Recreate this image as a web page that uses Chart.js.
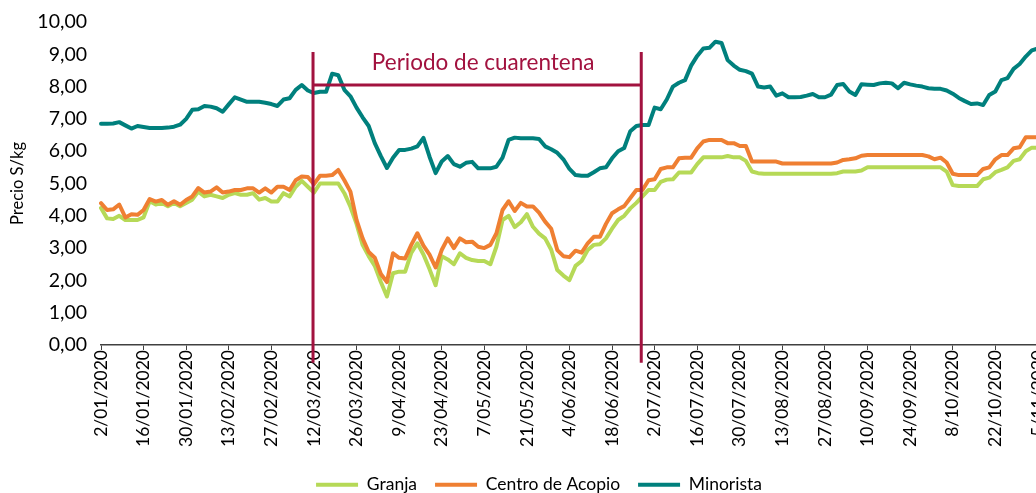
<!DOCTYPE html>
<html lang="es">
<head>
<meta charset="utf-8">
<title>Precio S/kg 2020</title>
<script src="https://cdn.jsdelivr.net/npm/chart.js@4/dist/chart.umd.min.js"></script>
<style>
html, body { margin: 0; padding: 0; background: #fff; overflow: hidden; }
#contenedor { width: 1054px; height: 493px; }
</style>
</head>
<body>
<div id="contenedor"><canvas id="grafico"></canvas></div>
<script>
// fechas cada 2 días desde 2/01/2020
const fechaInicio = new Date(2020, 0, 2);
const totalPuntos = 156;
const fechas = [];
for (let i = 0; i < totalPuntos; i++) {
    const d = new Date(fechaInicio);
    d.setDate(d.getDate() + i * 2);
    fechas.push(d.getDate() + '/' + String(d.getMonth() + 1).padStart(2, '0') + '/' + d.getFullYear());
}

// precios S/kg
const granja = [
    4.24,3.92,3.9,4.0,3.87,3.87,3.87,3.95,4.45,4.35,
    4.4,4.3,4.4,4.3,4.4,4.5,4.75,4.6,4.65,4.6,
    4.55,4.65,4.7,4.65,4.65,4.7,4.5,4.55,4.44,4.44,
    4.7,4.6,4.9,5.08,4.9,4.72,5.0,5.0,5.0,5.0,
    4.7,4.28,3.75,3.1,2.75,2.45,1.95,1.5,2.22,2.27,
    2.27,2.85,3.15,2.8,2.35,1.85,2.75,2.65,2.5,2.84,
    2.7,2.63,2.6,2.6,2.5,3.05,3.87,4.0,3.65,3.8,
    4.05,3.66,3.45,3.3,2.95,2.32,2.15,2.01,2.45,2.6,
    2.94,3.1,3.12,3.3,3.6,3.87,4.0,4.23,4.4,4.6,
    4.8,4.8,5.05,5.12,5.13,5.34,5.34,5.34,5.6,5.81,
    5.81,5.81,5.81,5.85,5.81,5.81,5.7,5.37,5.32,5.3,
    5.3,5.3,5.3,5.3,5.3,5.3,5.3,5.3,5.3,5.3,
    5.3,5.32,5.37,5.37,5.37,5.4,5.5,5.5,5.5,5.5,
    5.5,5.5,5.5,5.5,5.5,5.5,5.5,5.5,5.5,5.37,
    4.95,4.92,4.92,4.92,4.92,5.13,5.18,5.35,5.42,5.5,
    5.7,5.75,6.0,6.11,6.11,6.11
];
const centroAcopio = [
    4.39,4.18,4.2,4.35,3.95,4.05,4.03,4.18,4.52,4.44,
    4.49,4.34,4.45,4.34,4.49,4.6,4.86,4.72,4.75,4.88,
    4.72,4.75,4.8,4.8,4.85,4.85,4.72,4.85,4.72,4.9,
    4.9,4.8,5.1,5.22,5.2,4.98,5.24,5.24,5.26,5.42,
    5.1,4.75,3.87,3.3,2.88,2.7,2.2,1.95,2.84,2.7,
    2.68,3.1,3.46,3.08,2.8,2.4,2.94,3.3,3.0,3.3,
    3.18,3.2,3.04,3.0,3.1,3.46,4.18,4.45,4.15,4.4,
    4.29,4.29,4.1,3.82,3.6,2.94,2.75,2.72,2.92,2.86,
    3.15,3.35,3.35,3.75,4.08,4.2,4.3,4.55,4.8,4.8,
    5.1,5.13,5.45,5.5,5.5,5.78,5.8,5.8,6.09,6.3,
    6.35,6.35,6.35,6.25,6.25,6.16,6.16,5.68,5.68,5.68,
    5.68,5.68,5.62,5.62,5.62,5.62,5.62,5.62,5.62,5.62,
    5.62,5.65,5.73,5.75,5.78,5.86,5.88,5.88,5.88,5.88,
    5.88,5.88,5.88,5.88,5.88,5.88,5.84,5.75,5.8,5.65,
    5.3,5.26,5.26,5.26,5.26,5.45,5.5,5.75,5.88,5.88,
    6.09,6.12,6.43,6.43,6.43,6.43
];
const minorista = [
    6.85,6.85,6.86,6.9,6.8,6.7,6.78,6.75,6.72,6.72,
    6.72,6.73,6.76,6.82,7.0,7.28,7.3,7.4,7.38,7.33,
    7.22,7.45,7.67,7.6,7.53,7.53,7.53,7.5,7.46,7.4,
    7.6,7.64,7.9,8.05,7.88,7.8,7.84,7.84,8.4,8.35,
    7.9,7.7,7.35,7.05,6.78,6.25,5.85,5.48,5.8,6.04,
    6.04,6.08,6.15,6.41,5.83,5.32,5.68,5.85,5.6,5.52,
    5.64,5.67,5.47,5.47,5.47,5.52,5.8,6.35,6.42,6.4,
    6.4,6.4,6.38,6.15,6.06,5.95,5.75,5.45,5.26,5.24,
    5.24,5.35,5.47,5.5,5.78,6.0,6.1,6.62,6.78,6.81,
    6.81,7.35,7.3,7.6,8.0,8.12,8.2,8.65,8.95,9.18,
    9.2,9.39,9.35,8.82,8.65,8.52,8.48,8.4,8.0,7.97,
    8.0,7.72,7.79,7.67,7.67,7.68,7.72,7.77,7.67,7.67,
    7.75,8.05,8.08,7.85,7.74,8.07,8.06,8.05,8.1,8.12,
    8.1,7.95,8.12,8.07,8.03,8.0,7.95,7.93,7.93,7.88,
    7.78,7.65,7.55,7.46,7.48,7.43,7.74,7.85,8.2,8.26,
    8.55,8.7,8.93,9.12,9.18,9.2
];

// periodo de cuarentena (días desde 2/01/2020)
const cuarentenaDias = [69.7, 177.6];
const cuarentenaTexto = 'Periodo de cuarentena';

const fuente = 'Lato, "Open Sans", sans-serif';
const rojo = '#A2123F';

// anotación del periodo de cuarentena
const pluginCuarentena = {
    id: 'cuarentena',
    afterDatasetsDraw(chart) {
        const { ctx, scales: { x, y } } = chart;
        const x1 = x.getPixelForValue(cuarentenaDias[0] / 2);
        const x2 = x.getPixelForValue(cuarentenaDias[1] / 2);
        const yTop = y.getPixelForValue(9.07);
        const yBottom = y.getPixelForValue(-0.55);
        const yLinea = y.getPixelForValue(8.05);
        ctx.save();
        ctx.strokeStyle = rojo;
        ctx.lineWidth = 3;
        ctx.beginPath();
        ctx.moveTo(x1, yTop); ctx.lineTo(x1, yBottom);
        ctx.moveTo(x2, yTop); ctx.lineTo(x2, yBottom);
        ctx.moveTo(x1, yLinea); ctx.lineTo(x2, yLinea);
        ctx.stroke();
        ctx.fillStyle = rojo;
        ctx.font = '22.5px ' + fuente;
        ctx.textAlign = 'center';
        ctx.textBaseline = 'middle';
        ctx.fillText(cuarentenaTexto, (x1 + x2) / 2 + 6, y.getPixelForValue(8.73));
        ctx.restore();
    }
};

const ctx = document.getElementById('grafico').getContext('2d');
new Chart(ctx, {
    type: 'line',
    data: {
        labels: fechas,
        datasets: [{
            label: 'Granja',
            data: granja,
            borderColor: '#B6D957',
            backgroundColor: '#B6D957',
            borderWidth: 4,
            order: 3
        }, {
            label: 'Centro de Acopio',
            data: centroAcopio,
            borderColor: '#EF7F32',
            backgroundColor: '#EF7F32',
            borderWidth: 4,
            order: 2
        }, {
            label: 'Minorista',
            data: minorista,
            borderColor: '#00807D',
            backgroundColor: '#00807D',
            borderWidth: 4,
            order: 1
        }]
    },
    options: {
        responsive: true,
        maintainAspectRatio: false,
        animation: false,
        devicePixelRatio: 1,
        layout: { padding: { top: 22, right: 10, left: 34, bottom: -10.5 } },
        elements: {
            line: { borderWidth: 4, tension: 0, borderJoinStyle: 'round', borderCapStyle: 'round' },
            point: { radius: 0, hoverRadius: 0 }
        },
        scales: {
            x: {
                grid: {
                    drawOnChartArea: false,
                    tickLength: 5,
                    color: (c) => c.index % 7 === 0 ? '#404040' : 'rgba(0,0,0,0)'
                },
                border: { color: '#404040', width: 1.5 },
                ticks: {
                    autoSkip: false,
                    maxRotation: 90,
                    minRotation: 90,
                    padding: 0,
                    color: '#000',
                    font: { family: fuente, size: 17.5 },
                    callback: function (val, idx) {
                        return idx % 7 === 0 ? this.getLabelForValue(val) : '';
                    }
                },
                afterFit: (s) => { s.height = 113; s.paddingLeft = 0; s.paddingRight = 0; }
            },
            y: {
                min: 0,
                max: 10,
                grid: { display: false },
                border: { display: false },
                ticks: {
                    stepSize: 1,
                    padding: 6,
                    color: '#000',
                    font: { family: fuente, size: 19.5 },
                    callback: (v) => v.toFixed(2).replace('.', ',')
                },
                title: {
                    display: true,
                    text: 'Precio S/kg',
                    color: '#000',
                    font: { family: fuente, size: 16.5 },
                    padding: { top: -26, bottom: 0 }
                },
                afterFit: (s) => { s.width = 67; s.paddingTop = 0; s.paddingBottom = 0; }
            }
        },
        plugins: {
            legend: {
                position: 'bottom',
                labels: {
                    usePointStyle: true,
                    pointStyle: 'line',
                    pointStyleWidth: 42,
                    color: '#000',
                    font: { family: fuente, size: 17.5 },
                    padding: 18,
                    sort: (a, b) => a.datasetIndex - b.datasetIndex
                }
            },
            tooltip: { enabled: false }
        }
    },
    plugins: [pluginCuarentena]
});
</script>
</body>
</html>
